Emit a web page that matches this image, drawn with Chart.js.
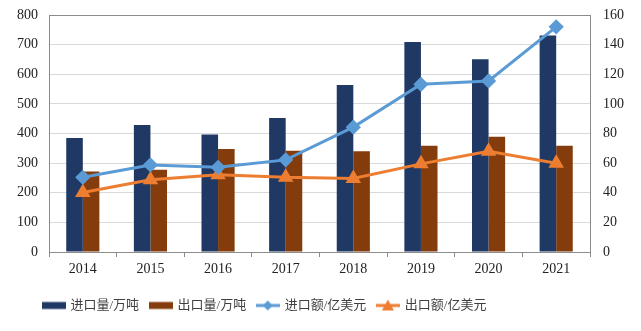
<!DOCTYPE html>
<html>
<head>
<meta charset="utf-8">
<script src="https://cdn.jsdelivr.net/npm/chart.js@4/dist/chart.umd.min.js"></script>
<style>
  html, body { margin: 0; padding: 0; background: #fff; }
  #wrap { width: 641px; height: 331px; }
</style>
</head>
<body>
<div id="wrap"><canvas id="chart" width="641" height="331"></canvas></div>
<script>
// data
const years = ['2014', '2015', '2016', '2017', '2018', '2019', '2020', '2021'];
const importVolume = [385, 429, 397, 452, 564, 709, 651, 731];   // 万吨
const exportVolume = [272, 278, 348, 342, 340, 359, 389, 359];   // 万吨
const importValue = [50.4, 58.8, 57.2, 62.2, 84.3, 113.2, 115.5, 152]; // 亿美元
const exportValue = [40.2, 48.8, 52.2, 50.4, 49.7, 59.5, 68, 59.9];     // 亿美元
const leftTicks = [0, 100, 200, 300, 400, 500, 600, 700, 800];
const rightTicks = [0, 20, 40, 60, 80, 100, 120, 140, 160];

const FONT = '"Liberation Serif", "Times New Roman", "Noto Sans CJK SC", serif';
const NAVY = '#203864';
const BROWN = '#843c0c';
const BLUE = '#5b9bd5';
const ORANGE = '#ed7d31';

// little legend swatches
function swatch(kind, color) {
    const c = document.createElement('canvas');
    c.width = 24; c.height = 12;
    const g = c.getContext('2d');
    if (kind === 'bar') {
        g.fillStyle = color;
        g.fillRect(0, 2.5, 24, 7);
    } else {
        g.strokeStyle = color;
        g.lineWidth = 3;
        g.beginPath(); g.moveTo(0, 6); g.lineTo(24, 6); g.stroke();
        g.fillStyle = color;
        g.beginPath();
        if (kind === 'diamond') {
            g.moveTo(12, 1); g.lineTo(17, 6); g.lineTo(12, 11); g.lineTo(7, 6);
        } else {
            g.moveTo(12, 0); g.lineTo(18, 11); g.lineTo(6, 11);
        }
        g.closePath(); g.fill();
    }
    return c;
}
const swatches = [swatch('bar', NAVY), swatch('bar', BROWN), swatch('diamond', BLUE), swatch('tri', ORANGE)];

// full box around the plot area, and legend pulled to the left like the original
const frame = {
    id: 'frame',
    afterLayout(chart) {
        const lg = chart.legend;
        if (lg) { lg.left = 32; }
    },
    afterDatasetsDraw(chart) {
        const a = chart.chartArea, ctx = chart.ctx;
        ctx.save();
        ctx.strokeStyle = '#8c8c8c';
        ctx.lineWidth = 1;
        ctx.strokeRect(Math.round(a.left) + 0.5, Math.round(a.top) + 0.5,
            Math.round(a.right - a.left), Math.round(a.bottom - a.top));
        ctx.restore();
    }
};

new Chart(document.getElementById('chart'), {
    data: {
        labels: years,
        datasets: [
            { type: 'line', label: '进口额/亿美元', data: importValue, yAxisID: 'y1',
              borderColor: BLUE, backgroundColor: BLUE, borderWidth: 3,
              pointStyle: 'rectRot', pointRadius: 5.5, pointHoverRadius: 5.5, order: 0 },
            { type: 'line', label: '出口额/亿美元', data: exportValue, yAxisID: 'y1',
              borderColor: ORANGE, backgroundColor: ORANGE, borderWidth: 3,
              pointStyle: 'triangle', pointRadius: 6, pointHoverRadius: 6, order: 1 },
            { type: 'bar', label: '进口量/万吨', data: importVolume, yAxisID: 'y',
              backgroundColor: NAVY, categoryPercentage: 0.49, barPercentage: 1, order: 2 },
            { type: 'bar', label: '出口量/万吨', data: exportVolume, yAxisID: 'y',
              backgroundColor: BROWN, categoryPercentage: 0.49, barPercentage: 1, order: 3 },
        ],
    },
    options: {
        responsive: false,
        animation: false,
        layout: { padding: { top: 15, left: 0, right: 0, bottom: 9 } },
        plugins: {
            tooltip: { enabled: false },
            legend: {
                position: 'bottom',
                align: 'start',
                labels: {
                    font: { family: FONT, size: 13 },
                    color: '#404040',
                    usePointStyle: true,
                    pointStyleWidth: 21,
                    boxHeight: 12,
                    padding: 11,
                    generateLabels: (chart) => {
                        const order = [2, 3, 0, 1];
                        return order.map((di, i) => ({
                            text: chart.data.datasets[di].label,
                            datasetIndex: di,
                            pointStyle: swatches[i],
                            fillStyle: 'transparent',
                            strokeStyle: 'transparent',
                            lineWidth: 0,
                            fontColor: '#404040',
                        }));
                    },
                },
            },
        },
        scales: {
            x: {
                grid: { drawOnChartArea: false, offset: true, tickLength: 5, color: '#8c8c8c' },
                border: { color: '#8c8c8c' },
                ticks: { font: { family: FONT, size: 14 }, color: '#222', padding: 4 },
                afterFit: (s) => { s.height = 36; },
            },
            y: {
                position: 'left',
                min: 0, max: 800,
                afterBuildTicks: (s) => { s.ticks = leftTicks.map(v => ({ value: v })); },
                grid: { color: '#d9d9d9', tickLength: 8, tickColor: 'rgba(0,0,0,0)' },
                border: { color: '#8c8c8c' },
                ticks: { font: { family: FONT, size: 14 }, color: '#222', padding: 3 },
                afterFit: (s) => { s.width = 49; },
            },
            y1: {
                position: 'right',
                min: 0, max: 160,
                afterBuildTicks: (s) => { s.ticks = rightTicks.map(v => ({ value: v })); },
                grid: { drawOnChartArea: false, tickLength: 10, tickColor: 'rgba(0,0,0,0)' },
                border: { color: '#8c8c8c' },
                ticks: { font: { family: FONT, size: 14 }, color: '#222', padding: 3 },
                afterFit: (s) => { s.width = 51; },
            },
        },
    },
    plugins: [frame],
});
</script>
</body>
</html>
